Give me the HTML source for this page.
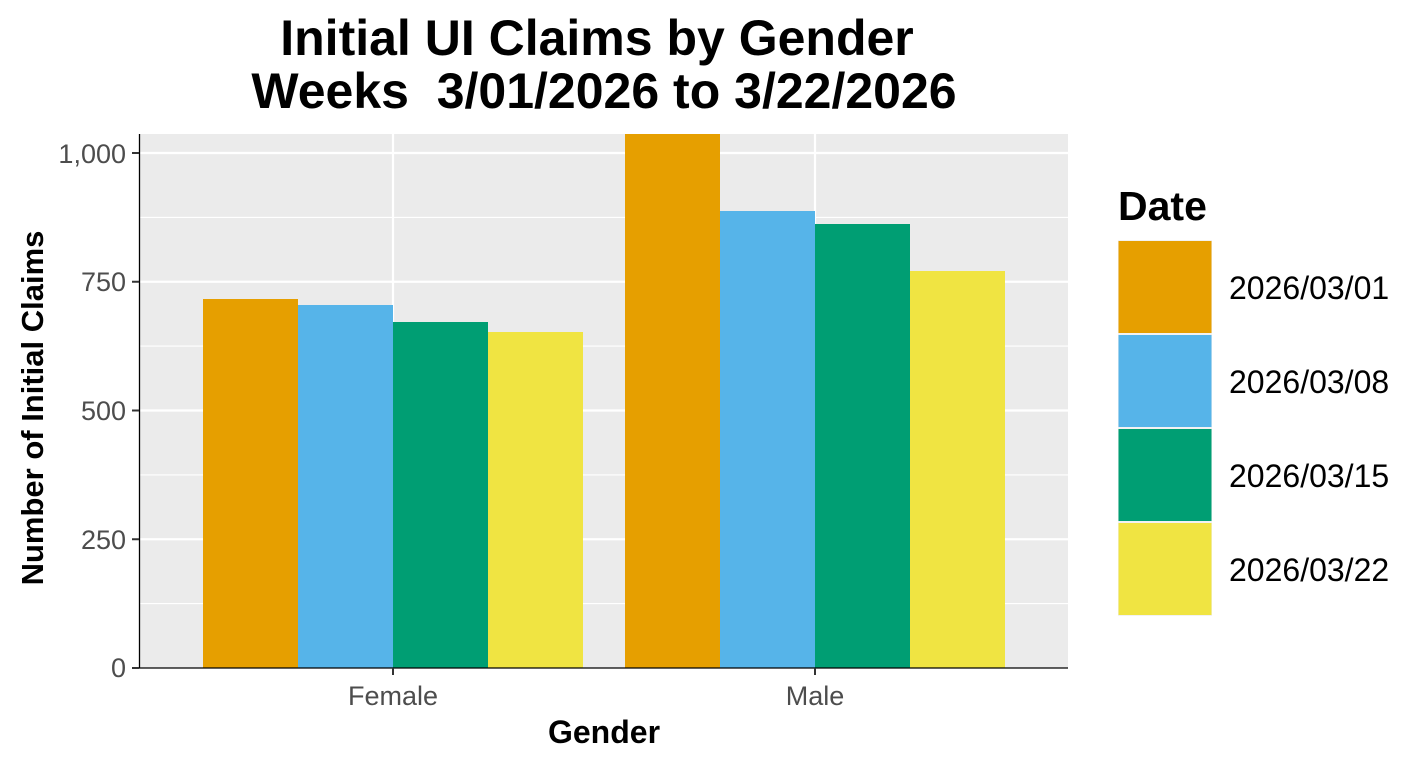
<!DOCTYPE html>
<html><head><meta charset="utf-8"><style>
html,body{margin:0;padding:0;background:#fff;}
svg{display:block;font-family:"Liberation Sans",Arial,sans-serif;}
</style></head><body>
<svg width="1425" height="766" viewBox="0 0 1425 766" xmlns="http://www.w3.org/2000/svg">
<rect width="1425" height="766" fill="#fff"/>
<text x="597" y="55" font-size="50" font-weight="bold" text-anchor="middle">Initial UI Claims by Gender</text>
<text x="604" y="108" font-size="50" font-weight="bold" text-anchor="middle">Weeks &#160;3/01/2026 to 3/22/2026</text>
<rect x="139" y="134" width="929" height="534" fill="#ebebeb"/>
<g stroke="#fff" stroke-width="1.1">
<line x1="139" x2="1068" y1="603.6" y2="603.6"/>
<line x1="139" x2="1068" y1="474.9" y2="474.9"/>
<line x1="139" x2="1068" y1="346.1" y2="346.1"/>
<line x1="139" x2="1068" y1="217.4" y2="217.4"/>
</g>
<g stroke="#fff" stroke-width="2.2">
<line x1="139" x2="1068" y1="539.25" y2="539.25"/>
<line x1="139" x2="1068" y1="410.5" y2="410.5"/>
<line x1="139" x2="1068" y1="281.75" y2="281.75"/>
<line x1="139" x2="1068" y1="153" y2="153"/>
<line x1="393" x2="393" y1="134" y2="668"/>
<line x1="815" x2="815" y1="134" y2="668"/>
</g>
<rect x="203" y="299" width="95" height="369" fill="#E69F00"/>
<rect x="298" y="305" width="95" height="363" fill="#56B4E9"/>
<rect x="393" y="322" width="95" height="346" fill="#009E73"/>
<rect x="488" y="332" width="95" height="336" fill="#F0E442"/>
<rect x="625" y="134" width="95" height="534" fill="#E69F00"/>
<rect x="720" y="211" width="95" height="457" fill="#56B4E9"/>
<rect x="815" y="224" width="95" height="444" fill="#009E73"/>
<rect x="910" y="271" width="95" height="397" fill="#F0E442"/>
<line x1="139.5" x2="139.5" y1="134" y2="668" stroke="#000" stroke-width="1.3"/>
<line x1="139" x2="1068" y1="668" y2="668" stroke="#000" stroke-width="1.3"/>
<g stroke="#333" stroke-width="2">
<line x1="132" x2="139" y1="668" y2="668"/>
<line x1="132" x2="139" y1="539.25" y2="539.25"/>
<line x1="132" x2="139" y1="410.5" y2="410.5"/>
<line x1="132" x2="139" y1="281.75" y2="281.75"/>
<line x1="132" x2="139" y1="153" y2="153"/>
<line x1="393" x2="393" y1="668" y2="675"/>
<line x1="815" x2="815" y1="668" y2="675"/>
</g>
<g font-size="27" fill="#4d4d4d" text-anchor="end">
<text x="126" y="677">0</text>
<text x="126" y="549">250</text>
<text x="126" y="420">500</text>
<text x="126" y="291">750</text>
<text x="126" y="163">1,000</text>
</g>
<g font-size="27" fill="#4d4d4d" text-anchor="middle">
<text x="393" y="705">Female</text>
<text x="815" y="705">Male</text>
</g>
<text x="604" y="743" font-size="32" font-weight="bold" text-anchor="middle">Gender</text>
<text transform="translate(43,408) rotate(-90)" font-size="31" font-weight="bold" text-anchor="middle">Number of Initial Claims</text>
<text x="1118" y="220" font-size="41" font-weight="bold">Date</text>
<rect x="1118" y="240" width="94" height="376" fill="#f2f2f2"/>
<rect x="1118.5" y="241" width="93" height="92" fill="#E69F00"/>
<rect x="1118.5" y="335" width="93" height="92" fill="#56B4E9"/>
<rect x="1118.5" y="429" width="93" height="92" fill="#009E73"/>
<rect x="1118.5" y="523" width="93" height="92" fill="#F0E442"/>
<g font-size="32">
<text x="1229" y="299">2026/03/01</text>
<text x="1229" y="393">2026/03/08</text>
<text x="1229" y="487">2026/03/15</text>
<text x="1229" y="581">2026/03/22</text>
</g>
</svg>
</body></html>
